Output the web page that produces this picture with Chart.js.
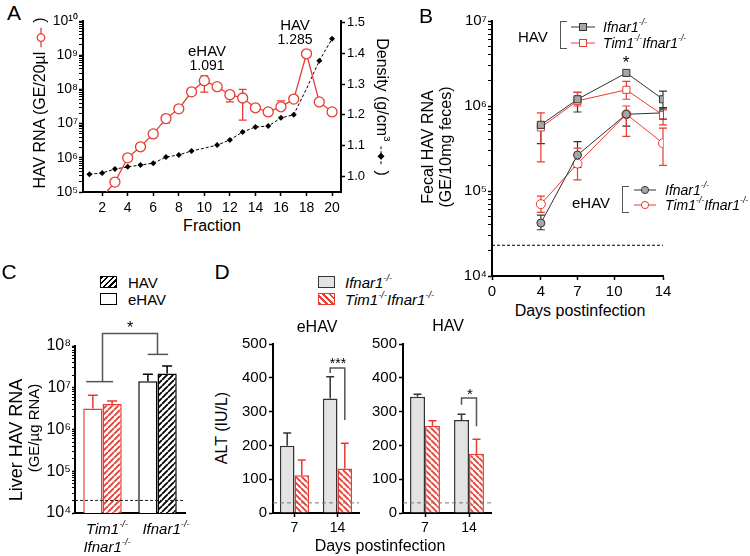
<!DOCTYPE html>
<html>
<head>
<meta charset="utf-8">
<title>HAV / eHAV</title>
<script src="https://cdn.jsdelivr.net/npm/chart.js@4.4.1/dist/chart.umd.min.js"></script>
<style>
  html, body { margin: 0; padding: 0; background: #fff; }
  body { position: relative; width: 750px; height: 556px; overflow: hidden;
         font-family: "Liberation Sans", Arial, Helvetica, sans-serif; color: #000; }
  canvas { position: absolute; }
  .t   { position: absolute; white-space: nowrap; line-height: 1; transform: translate(-50%, -50%); }
  .l   { transform: translate(0, -50%); }
  .up  { transform: translate(-50%, -50%) rotate(-90deg); }
  .dn  { transform: translate(-50%, -50%) rotate(90deg); }
  .it  { font-style: italic; }
  sup  { font-size: 0.62em; position: relative; top: -0.1em; vertical-align: super; line-height: 0; }
  .box { position: absolute; box-sizing: border-box; width: 17px; height: 12px; }
  .brk { position: absolute; box-sizing: border-box; width: 7px; border: 1.5px solid #555; border-right: none; }
  .mk  { position: absolute; }
  svg  { vertical-align: middle; }
</style>
</head>
<body>

<canvas id="chartA"  width="340" height="215" style="left:40px;top:0"></canvas>
<canvas id="chartB"  width="220" height="300" style="left:455px;top:0"></canvas>
<canvas id="chartC"  width="160" height="200" style="left:30px;top:320px"></canvas>
<canvas id="chartD1" width="130" height="220" style="left:235px;top:320px"></canvas>
<canvas id="chartD2" width="135" height="220" style="left:365px;top:320px"></canvas>

<!-- ── Panel A text ── -->
<div class="t" style="left:14px;top:12px;font-size:21px">A</div>
<div class="t up" style="left:40px;top:103px;font-size:16px">HAV RNA (GE/20µl <svg width="20" height="10"><line x1="0" y1="5" x2="20" y2="5" stroke="#e63c32" stroke-width="1.3"/><circle cx="10" cy="5" r="3.8" fill="#fff" stroke="#e63c32" stroke-width="1.3"/></svg> )</div>
<div class="t dn" style="left:382px;top:107px;font-size:16px">Density (g/cm<sup>3</sup> <svg width="20" height="10"><line x1="0" y1="5" x2="20" y2="5" stroke="#000" stroke-width="1" stroke-dasharray="3,2"/><rect x="7.5" y="2.5" width="5" height="5" transform="rotate(45 10 5)" fill="#000"/></svg> )</div>
<div class="t" style="left:207px;top:50px;font-size:15px">eHAV</div>
<div class="t" style="left:207px;top:65px;font-size:14px">1.091</div>
<div class="t" style="left:295px;top:24px;font-size:15px">HAV</div>
<div class="t" style="left:295px;top:39px;font-size:14px">1.285</div>
<div class="t" style="left:212px;top:226px;font-size:16px">Fraction</div>

<!-- ── Panel B text ── -->
<div class="t" style="left:426px;top:15px;font-size:21px">B</div>
<div class="t up" style="left:428px;top:147px;font-size:16px">Fecal HAV RNA</div>
<div class="t up" style="left:446px;top:147px;font-size:16px">(GE/10mg feces)</div>
<div class="t l" style="left:518px;top:36px;font-size:15px">HAV</div>
<div class="brk" style="left:560px;top:21px;height:28px"></div>
<svg class="mk" style="left:571px;top:21px" width="24" height="12"><line x1="0" y1="6" x2="24" y2="6" stroke="#333" stroke-width="1"/><rect x="8.5" y="2.5" width="7" height="7" fill="#a6a6a6" stroke="#333" stroke-width="1"/></svg>
<svg class="mk" style="left:571px;top:37px" width="24" height="12"><line x1="0" y1="6" x2="24" y2="6" stroke="#e63c32" stroke-width="1"/><rect x="8.5" y="2.5" width="7" height="7" fill="#fff" stroke="#e63c32" stroke-width="1"/></svg>
<div class="t l it" style="left:603px;top:27px;font-size:14px">Ifnar1<sup>-/-</sup></div>
<div class="t l it" style="left:603px;top:43px;font-size:14px">Tim1<sup>-/-</sup>Ifnar1<sup>-/-</sup></div>
<div class="t" style="left:626px;top:62px;font-size:17px">*</div>
<div class="t l" style="left:572px;top:202px;font-size:15px">eHAV</div>
<div class="brk" style="left:622px;top:186px;height:27px"></div>
<svg class="mk" style="left:634px;top:184px" width="22" height="12"><line x1="0" y1="6" x2="22" y2="6" stroke="#333" stroke-width="1"/><circle cx="11" cy="6" r="3.6" fill="#a6a6a6" stroke="#333" stroke-width="1"/></svg>
<svg class="mk" style="left:634px;top:199px" width="22" height="12"><line x1="0" y1="6" x2="22" y2="6" stroke="#e63c32" stroke-width="1"/><circle cx="11" cy="6" r="3.6" fill="#fff" stroke="#e63c32" stroke-width="1"/></svg>
<div class="t l it" style="left:665px;top:190px;font-size:14px">Ifnar1<sup>-/-</sup></div>
<div class="t l it" style="left:665px;top:205px;font-size:14px">Tim1<sup>-/-</sup>Ifnar1<sup>-/-</sup></div>
<div class="t" style="left:580px;top:311px;font-size:16px">Days postinfection</div>

<!-- ── Panel C text ── -->
<div class="t" style="left:9px;top:271px;font-size:21px">C</div>
<div class="box" style="left:100px;top:276px;border:1px solid #000;background:repeating-linear-gradient(135deg,#000 0 1.5px,#fff 1.5px 4px)"></div>
<div class="t l" style="left:128px;top:282px;font-size:15px">HAV</div>
<div class="box" style="left:100px;top:293px;border:1px solid #000;background:#fff"></div>
<div class="t l" style="left:128px;top:299px;font-size:15px">eHAV</div>
<div class="t" style="left:130px;top:328px;font-size:16px">*</div>
<div class="t up" style="left:16px;top:440px;font-size:18px">Liver HAV RNA</div>
<div class="t up" style="left:33px;top:428px;font-size:15px">(GE/µg RNA)</div>
<div class="t it" style="left:107px;top:528px;font-size:15px">Tim1<sup>-/-</sup></div>
<div class="t it" style="left:107px;top:546px;font-size:15px">Ifnar1<sup>-/-</sup></div>
<div class="t it" style="left:166px;top:528px;font-size:15px">Ifnar1<sup>-/-</sup></div>

<!-- ── Panel D text ── -->
<div class="t" style="left:222px;top:271px;font-size:21px">D</div>
<div class="box" style="left:318px;top:276px;border:1px solid #333;background:#e3e3e3"></div>
<div class="t l it" style="left:345px;top:282px;font-size:15px">Ifnar1<sup>-/-</sup></div>
<div class="box" style="left:318px;top:293px;border:1px solid #e63c32;background:repeating-linear-gradient(45deg,#e63c32 0 2px,#fff 2px 4.5px)"></div>
<div class="t l it" style="left:345px;top:299px;font-size:15px">Tim1<sup>-/-</sup>Ifnar1<sup>-/-</sup></div>
<div class="t" style="left:317px;top:327px;font-size:16px">eHAV</div>
<div class="t" style="left:448px;top:326px;font-size:16px">HAV</div>
<div class="t" style="left:338px;top:363px;font-size:14px">***</div>
<div class="t" style="left:470px;top:393px;font-size:15px">*</div>
<div class="t up" style="left:222px;top:428px;font-size:16px">ALT (IU/L)</div>
<div class="t" style="left:380px;top:546px;font-size:16px">Days postinfection</div>

<script>
// ── Colours ───────────────────────────────────────────────────
const RED  = '#e63c32';
const GRAY = '#e3e3e3';

// ── Panel A: density gradient fractions ───────────────────────
const fractions     = [1, 2, 3, 4, 5, 6, 7, 8, 9, 10, 11, 12, 13, 14, 15, 16, 17, 18, 19, 20];
const fractionTicks = [2, 4, 6, 8, 10, 12, 14, 16, 18, 20];
const peakFractions = [10, 18];
const rnaA     = [null, 7e4, 1.95e5, 1.0e6, 2.1e6, 5e6, 1.4e7, 2.7e7, 8.5e7, 1.8e8,
                  1.2e8, 7e7, 5.6e7, 2.9e7, 2.2e7, 3.1e7, 5.2e7, 1.1e9, 4.3e7, 2.2e7];
const rnaALow  = [null, null, null, null, null, null, 1.05e7, null, null, 8.3e7,
                  null, 4.3e7, 1.26e7, null, null, 2.5e7, null, 8.9e8, null, 1.8e7];
const rnaAHigh = [null, null, null, null, null, null, null, null, null, 2.5e8,
                  null, 8.9e7, 1.0e8, null, null, 4.6e7, null, 1.24e9, null, 2.7e7];
const densityA = [1.006, 1.010, 1.023, 1.030, 1.036, 1.042, 1.062, 1.069, 1.082, 1.091,
                  1.101, 1.118, 1.144, 1.160, 1.163, 1.190, 1.200, 1.285, 1.376, 1.448];
const densityTicks = [1.0, 1.1, 1.2, 1.3, 1.4, 1.5];

// ── Panel B: fecal shedding ───────────────────────────────────
const days     = [4, 7, 11, 14];
const dayTicks = [0, 4, 7, 10, 14];
const havIfnar      = [6.0e5, 1.2e6, 2.45e6, 1.2e6];
const havIfnarLow   = [3.6e5, 8.5e5, null, 9.5e5];
const havIfnarHigh  = [null, 1.45e6, null, 1.5e6];
const havTim        = [5.6e5, 1.15e6, 1.55e6, 7.8e5];
const havTimLow     = [2.2e5, 1.0e6, 1.2e6, 6.0e5];
const havTimHigh    = [8.3e5, 1.45e6, 1.95e6, 9.0e5];
const ehavIfnar     = [4.2e4, 2.65e5, 8.0e5, 8.3e5];
const ehavIfnarLow  = [3.5e4, 1.9e5, 5.8e5, 7.0e5];
const ehavIfnarHigh = [5.2e4, 3.8e5, null, 9.5e5];
const ehavTim       = [7.0e4, 2.1e5, 8.0e5, 3.65e5];
const ehavTimLow    = [5.6e4, 1.35e5, 4.4e5, 2.0e5];
const ehavTimHigh   = [8.7e4, 3.2e5, 1.0e6, 5.5e5];
const fecalLimit    = 2.3e4;

// ── Panel C: liver RNA ────────────────────────────────────────
const liverGroups   = ['Tim1-/- Ifnar1-/-', 'Ifnar1-/-'];
const liverEHAV     = [3.2e6, 1.44e7];
const liverEHAVErr  = [6.6e6, 2.1e7];
const liverHAV      = [4.1e6, 2.2e7];
const liverHAVErr   = [4.8e6, 3.3e7];
const liverLimit    = 2e4;
const liverSig      = { low: [1.4e7, 6.3e7], top: 2e8 };

// ── Panel D: ALT ──────────────────────────────────────────────
const altDays          = ['7', '14'];
const altTicks         = [0, 100, 200, 300, 400, 500];
const altEhavIfnar     = [199, 339];
const altEhavIfnarErr  = [237, 403];
const altEhavTim       = [112, 132];
const altEhavTimErr    = [157, 206];
const altHavIfnar      = [344, 275];
const altHavIfnarErr   = [351, 292];
const altHavTim        = [258, 175];
const altHavTimErr     = [273, 218];
const altLimit         = 30;
const altEhavSig       = { top: 429, left: 414, right: 275 };
const altHavSig        = { top: 340, left: 320, right: 257 };

// ── Helpers ───────────────────────────────────────────────────
Chart.defaults.font.family = '"Liberation Sans", Arial, Helvetica, sans-serif';
Chart.defaults.color = '#000';

const SUP = '⁰¹²³⁴⁵⁶⁷⁸⁹';
const pow10 = v => {
  const n = Math.round(Math.log10(v));
  if (Math.abs(v / Math.pow(10, n) - 1) > 1e-6) return '';
  return '10' + String(n).split('').map(d => SUP[d]).join('');
};
const logTicks = (lo, hi) => scale => {
  const t = [];
  for (let n = lo; n < hi; n++)
    for (let m = 1; m < 10; m++) t.push({ value: m * Math.pow(10, n), major: m === 1 });
  t.push({ value: Math.pow(10, hi), major: true });
  scale.ticks = t;
};
const fixedTicks = list => scale => { scale.ticks = list.map(v => ({ value: v, major: true })); };
const fixW = w => s => { s.width = w;  s.paddingTop = 0;  s.paddingBottom = 0; };
const fixH = h => s => { s.height = h; s.paddingLeft = 0; s.paddingRight = 0; };
const tickW = c => (c.tick && c.tick.major === false) ? 1 : 1.5;

const axis = o => ({
  ...o,
  border: { color: '#000', width: 2, ...(o.border || {}) },
  grid:   { drawOnChartArea: false, tickLength: 4, tickColor: '#000', tickWidth: tickW, ...(o.grid || {}) },
  ticks:  { color: '#000', autoSkip: false, maxRotation: 0, padding: 2, font: { size: 14 }, ...(o.ticks || {}) }
});

const base = pad => ({
  responsive: false,
  animation: false,
  devicePixelRatio: 1,
  events: [],
  layout: { padding: pad, autoPadding: false }
});

function hatch(color, dir) {
  const s = 6;
  const c = document.createElement('canvas');
  c.width = c.height = s;
  const g = c.getContext('2d');
  g.fillStyle = '#fff';
  g.fillRect(0, 0, s, s);
  g.strokeStyle = color;
  g.lineWidth = 1.8;
  g.beginPath();
  for (let k = -1; k <= 1; k++) {
    if (dir > 0) { g.moveTo(k * s, s); g.lineTo(k * s + s, 0); }
    else         { g.moveTo(k * s, 0); g.lineTo(k * s + s, s); }
  }
  g.stroke();
  return g.createPattern(c, 'repeat');
}

// ── Plugins ───────────────────────────────────────────────────
function drawErrors(chart, opts) {
  const ctx = chart.ctx;
  chart.data.datasets.forEach((ds, di) => {
    if (!ds.errHigh && !ds.errLow) return;
    const meta = chart.getDatasetMeta(di);
    const ys = chart.scales[meta.yAxisID];
    meta.data.forEach((el, i) => {
      const hi = ds.errHigh ? ds.errHigh[i] : null;
      const lo = ds.errLow ? ds.errLow[i] : null;
      if (hi == null && lo == null) return;
      const col = ds.errColor || (Array.isArray(ds.borderColor) ? ds.borderColor[i] : ds.borderColor);
      const yh = hi != null ? ys.getPixelForValue(hi) : el.y;
      const yl = lo != null ? ys.getPixelForValue(lo) : el.y;
      const cw = opts.cap || 4;
      ctx.save();
      ctx.strokeStyle = col;
      ctx.lineWidth = opts.width || 1.3;
      ctx.beginPath();
      ctx.moveTo(el.x, yh); ctx.lineTo(el.x, yl);
      if (hi != null) { ctx.moveTo(el.x - cw, yh); ctx.lineTo(el.x + cw, yh); }
      if (lo != null) { ctx.moveTo(el.x - cw, yl); ctx.lineTo(el.x + cw, yl); }
      ctx.stroke();
      ctx.restore();
    });
  });
}
const errorBars = {
  id: 'errorBars',
  beforeDatasetsDraw(chart, args, opts) { if (opts.behind) drawErrors(chart, opts); },
  afterDatasetsDraw(chart, args, opts)  { if (!opts.behind) drawErrors(chart, opts); }
};

const refLine = {
  id: 'refLine',
  afterDatasetsDraw(chart, args, opts) {
    if (opts.value == null) return;
    const y = chart.scales.y.getPixelForValue(opts.value);
    const { left, right } = chart.chartArea;
    const ctx = chart.ctx;
    ctx.save();
    ctx.strokeStyle = opts.color || '#000';
    ctx.lineWidth = 1;
    ctx.setLineDash(opts.dash || [3, 2]);
    ctx.beginPath();
    ctx.moveTo(left, y); ctx.lineTo(right, y);
    ctx.stroke();
    ctx.restore();
  }
};

function strokePath(ctx, pts) {
  ctx.save();
  ctx.strokeStyle = '#555';
  ctx.lineWidth = 1.5;
  ctx.beginPath();
  pts.forEach(([x, y], i) => i ? ctx.lineTo(x, y) : ctx.moveTo(x, y));
  ctx.stroke();
  ctx.restore();
}

// ── Panel A ───────────────────────────────────────────────────
new Chart(document.getElementById('chartA'), {
  type: 'line',
  data: {
    datasets: [
      {
        label: 'HAV RNA', yAxisID: 'y',
        data: fractions.map((f, i) => ({ x: f, y: rnaA[i] })),
        errLow: rnaALow, errHigh: rnaAHigh,
        borderColor: RED, borderWidth: 1.3,
        pointRadius: 5, pointBackgroundColor: '#fff', pointBorderColor: RED, pointBorderWidth: 1.3,
        clip: 0
      },
      {
        label: 'Density', yAxisID: 'y2',
        data: fractions.map((f, i) => ({ x: f, y: densityA[i] })),
        borderColor: '#000', borderWidth: 1, borderDash: [3, 2],
        pointStyle: 'rectRot',
        pointRadius: c => peakFractions.includes(fractions[c.dataIndex]) ? 0 : 3,
        pointBackgroundColor: '#000', pointBorderColor: '#000', pointBorderWidth: 0
      }
    ]
  },
  options: {
    ...base({ top: 21, left: 0, right: 0, bottom: 0 }),
    plugins: { legend: { display: false }, tooltip: { enabled: false }, errorBars: { cap: 4, width: 1.3, behind: true } },
    scales: {
      x:  axis({ type: 'linear', min: 0.5, max: 20.7, afterBuildTicks: fixedTicks(fractionTicks),
                 afterFit: fixH(23), ticks: { padding: 4, font: { size: 14 } } }),
      y:  axis({ type: 'logarithmic', position: 'left', min: 1e5, max: 1e10, afterBuildTicks: logTicks(5, 10),
                 afterFit: fixW(43), ticks: { callback: pow10, padding: 1, font: { size: 14 } } }),
      y2: axis({ type: 'linear', position: 'right', min: 0.948, max: 1.506, afterBuildTicks: fixedTicks(densityTicks),
                 afterFit: fixW(39), ticks: { callback: v => v.toFixed(1), padding: 2, font: { size: 13 } } })
    }
  },
  plugins: [errorBars]
});

// ── Panel B ───────────────────────────────────────────────────
const lineSet = (label, vals, lo, hi, color, fill, style, r) => ({
  label, data: days.map((d, i) => ({ x: d, y: vals[i] })),
  errLow: lo, errHigh: hi, errColor: color,
  borderColor: color, borderWidth: 1,
  pointStyle: style, pointRadius: r,
  pointBackgroundColor: fill, pointBorderColor: color, pointBorderWidth: 1
});

new Chart(document.getElementById('chartB'), {
  type: 'line',
  data: {
    datasets: [
      lineSet('HAV Ifnar1',       havIfnar,  havIfnarLow,  havIfnarHigh,  '#333', '#a6a6a6', 'rect',   5),
      lineSet('HAV Tim1 Ifnar1',  havTim,    havTimLow,    havTimHigh,    RED,    '#fff',    'rect',   5),
      lineSet('eHAV Ifnar1',      ehavIfnar, ehavIfnarLow, ehavIfnarHigh, '#333', '#a6a6a6', 'circle', 4),
      lineSet('eHAV Tim1 Ifnar1', ehavTim,   ehavTimLow,   ehavTimHigh,   RED,    '#fff',    'circle', 4.5)
    ]
  },
  options: {
    ...base({ top: 21, left: 0, right: 12, bottom: 0 }),
    plugins: {
      legend: { display: false }, tooltip: { enabled: false },
      errorBars: { cap: 4, width: 1.2, behind: true },
      refLine: { value: fecalLimit, color: '#000', dash: [3, 2] }
    },
    scales: {
      x: axis({ type: 'linear', min: 0, max: 14, afterBuildTicks: fixedTicks(dayTicks),
                afterFit: fixH(24), ticks: { padding: 3, font: { size: 15 } } }),
      y: axis({ type: 'logarithmic', min: 1e4, max: 1e7, afterBuildTicks: logTicks(4, 7),
                afterFit: fixW(37), ticks: { callback: pow10, padding: 1, font: { size: 15 } } })
    }
  },
  plugins: [errorBars, refLine]
});

// ── Panel C ───────────────────────────────────────────────────
const liverBracket = {
  id: 'liverBracket',
  afterDraw(chart) {
    const y = chart.scales.y;
    const m0 = chart.getDatasetMeta(0).data, m1 = chart.getDatasetMeta(1).data;
    const cx = [0, 1].map(i => (m0[i].x + m1[i].x) / 2);
    const half = m0[0].width * 0.85;
    const top = y.getPixelForValue(liverSig.top);
    const l0 = y.getPixelForValue(liverSig.low[0]);
    const l1 = y.getPixelForValue(liverSig.low[1]);
    strokePath(chart.ctx, [[cx[0] - half, l0], [cx[0] + half * 0.65, l0]]);
    strokePath(chart.ctx, [[cx[0], l0], [cx[0], top], [cx[1], top], [cx[1], l1]]);
    strokePath(chart.ctx, [[cx[1] - half * 0.6, l1], [cx[1] + half * 0.65, l1]]);
  }
};

new Chart(document.getElementById('chartC'), {
  type: 'bar',
  data: {
    labels: liverGroups,
    datasets: [
      { label: 'eHAV', data: liverEHAV, errHigh: liverEHAVErr,
        backgroundColor: '#fff', borderColor: [RED, '#000'], borderWidth: 1.5 },
      { label: 'HAV', data: liverHAV, errHigh: liverHAVErr,
        backgroundColor: [hatch(RED, 1), hatch('#000', 1)], borderColor: [RED, '#000'], borderWidth: 1.5 }
    ]
  },
  options: {
    ...base({ top: 26, left: 0, right: 5, bottom: 0 }),
    datasets: { bar: { categoryPercentage: 0.7, barPercentage: 1 } },
    plugins: {
      legend: { display: false }, tooltip: { enabled: false },
      errorBars: { cap: 5, width: 1.5 },
      refLine: { value: liverLimit, color: '#222', dash: [3, 2] }
    },
    scales: {
      x: axis({ grid: { display: false }, ticks: { display: false }, afterFit: fixH(7) }),
      y: axis({ type: 'logarithmic', min: 1e4, max: 1e8, afterBuildTicks: logTicks(4, 8),
                afterFit: fixW(45), grid: { tickLength: 3 }, ticks: { callback: pow10, padding: 1, font: { size: 16 } } })
    }
  },
  plugins: [errorBars, refLine, liverBracket]
});

// ── Panel D ───────────────────────────────────────────────────
function altChart(id, ifnar, ifnarErr, tim, timErr, sig) {
  const bracket = {
    id: 'altBracket',
    afterDraw(chart) {
      const y = chart.scales.y;
      const xl = chart.getDatasetMeta(0).data[1].x;
      const xr = chart.getDatasetMeta(1).data[1].x;
      const yt = y.getPixelForValue(sig.top);
      strokePath(chart.ctx, [[xl, y.getPixelForValue(sig.left)], [xl, yt], [xr, yt], [xr, y.getPixelForValue(sig.right)]]);
    }
  };
  return new Chart(document.getElementById(id), {
    type: 'bar',
    data: {
      labels: altDays,
      datasets: [
        { label: 'Ifnar1', data: ifnar, errHigh: ifnarErr,
          backgroundColor: GRAY, borderColor: '#333', borderWidth: 1.5 },
        { label: 'Tim1 Ifnar1', data: tim, errHigh: timErr,
          backgroundColor: hatch(RED, -1), borderColor: RED, borderWidth: 1.5 }
      ]
    },
    options: {
      ...base({ top: 24, left: 0, right: id === 'chartD1' ? 6 : 9, bottom: 0 }),
      datasets: { bar: { categoryPercentage: 0.68, barPercentage: 1 } },
      plugins: {
        legend: { display: false }, tooltip: { enabled: false },
        errorBars: { cap: 4, width: 1.5 },
        refLine: { value: altLimit, color: '#777', dash: [4, 3] }
      },
      scales: {
        x: axis({ grid: { offset: false }, afterFit: fixH(27), ticks: { padding: 3, font: { size: 14 } } }),
        y: axis({ type: 'linear', min: 0, max: 500, afterBuildTicks: fixedTicks(altTicks),
                  afterFit: fixW(38), ticks: { padding: 2, font: { size: 15 } } })
      }
    },
    plugins: [errorBars, refLine, bracket]
  });
}

altChart('chartD1', altEhavIfnar, altEhavIfnarErr, altEhavTim, altEhavTimErr, altEhavSig);
altChart('chartD2', altHavIfnar,  altHavIfnarErr,  altHavTim,  altHavTimErr,  altHavSig);
</script>
</body>
</html>
